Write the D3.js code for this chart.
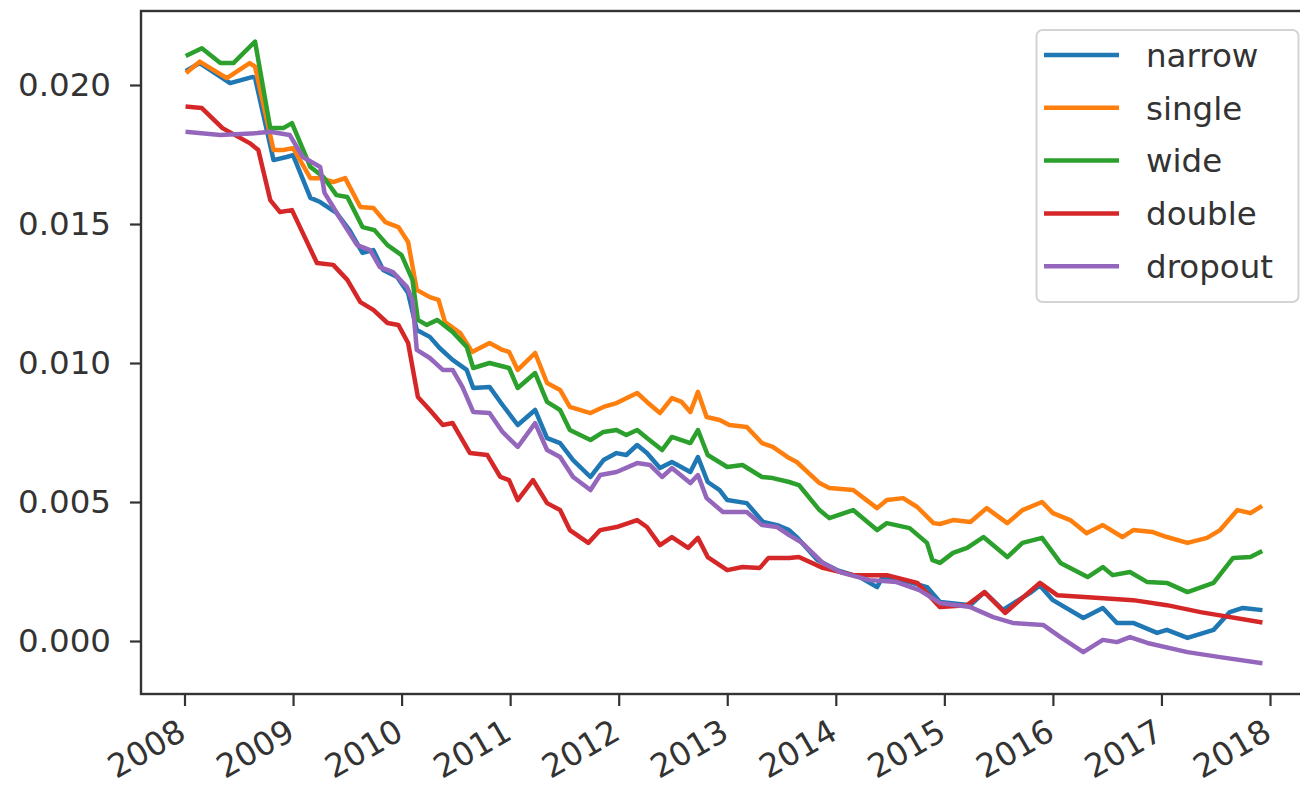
<!DOCTYPE html>
<html>
<head>
<meta charset="utf-8">
<script src="https://cdn.jsdelivr.net/npm/d3@7"></script>
<style>
  body { margin: 0; background: #fff; }
  svg { display: block; font-family: "DejaVu Sans", sans-serif; }
</style>
</head>
<body>
<div class="chart"></div>
<script>
'use strict'
// values, [decimal year, value]
var narrow = [[2008.03, 0.02054], [2008.14, 0.02079], [2008.42, 0.02007], [2008.63, 0.02029], [2008.65, 0.02025], [2008.82, 0.01730], [2008.94, 0.01741], [2009.00, 0.01748], [2009.16, 0.01594], [2009.25, 0.01579], [2009.40, 0.01540], [2009.52, 0.01478], [2009.64, 0.01396], [2009.74, 0.01406], [2009.83, 0.01335], [2009.96, 0.01309], [2010.06, 0.01252], [2010.14, 0.01119], [2010.26, 0.01094], [2010.35, 0.01054], [2010.47, 0.01011], [2010.60, 0.00975], [2010.66, 0.00910], [2010.81, 0.00914], [2010.93, 0.00849], [2011.07, 0.00777], [2011.23, 0.00831], [2011.34, 0.00730], [2011.46, 0.00712], [2011.58, 0.00651], [2011.74, 0.00590], [2011.86, 0.00651], [2011.98, 0.00676], [2012.07, 0.00669], [2012.17, 0.00705], [2012.26, 0.00676], [2012.38, 0.00622], [2012.49, 0.00644], [2012.66, 0.00608], [2012.73, 0.00662], [2012.82, 0.00572], [2012.93, 0.00543], [2013.00, 0.00507], [2013.18, 0.00496], [2013.33, 0.00428], [2013.46, 0.00417], [2013.57, 0.00399], [2013.64, 0.00374], [2013.83, 0.00291], [2014.01, 0.00255], [2014.22, 0.00230], [2014.38, 0.00194], [2014.43, 0.00230], [2014.68, 0.00212], [2014.84, 0.00194], [2014.96, 0.00140], [2015.24, 0.00129], [2015.37, 0.00176], [2015.54, 0.00112], [2015.79, 0.00173], [2015.88, 0.00200], [2016.00, 0.00147], [2016.28, 0.00083], [2016.46, 0.00119], [2016.59, 0.00065], [2016.74, 0.00065], [2016.96, 0.00029], [2017.05, 0.00040], [2017.24, 0.00011], [2017.48, 0.00040], [2017.63, 0.00104], [2017.75, 0.00119], [2017.91, 0.00112]]

var single = [[2008.03, 0.02048], [2008.14, 0.02084], [2008.39, 0.02025], [2008.60, 0.02079], [2008.65, 0.02066], [2008.82, 0.01766], [2008.91, 0.01766], [2009.00, 0.01773], [2009.16, 0.01665], [2009.25, 0.01665], [2009.37, 0.01651], [2009.48, 0.01665], [2009.62, 0.01561], [2009.74, 0.01558], [2009.85, 0.01507], [2009.97, 0.01489], [2010.06, 0.01435], [2010.14, 0.01263], [2010.26, 0.01237], [2010.34, 0.01227], [2010.40, 0.01147], [2010.54, 0.01108], [2010.65, 0.01040], [2010.81, 0.01072], [2010.93, 0.01047], [2010.99, 0.01040], [2011.07, 0.00975], [2011.23, 0.01036], [2011.34, 0.00928], [2011.46, 0.00903], [2011.55, 0.00842], [2011.74, 0.00820], [2011.86, 0.00842], [2011.98, 0.00856], [2012.17, 0.00892], [2012.26, 0.00860], [2012.38, 0.00820], [2012.49, 0.00874], [2012.58, 0.00860], [2012.66, 0.00824], [2012.73, 0.00896], [2012.81, 0.00806], [2012.93, 0.00795], [2013.02, 0.00777], [2013.18, 0.00770], [2013.32, 0.00712], [2013.42, 0.00698], [2013.57, 0.00658], [2013.64, 0.00644], [2013.85, 0.00568], [2013.94, 0.00550], [2014.16, 0.00543], [2014.38, 0.00478], [2014.47, 0.00507], [2014.62, 0.00514], [2014.75, 0.00482], [2014.90, 0.00424], [2014.96, 0.00421], [2015.08, 0.00435], [2015.24, 0.00428], [2015.39, 0.00478], [2015.58, 0.00424], [2015.72, 0.00471], [2015.90, 0.00500], [2016.00, 0.00460], [2016.16, 0.00435], [2016.31, 0.00388], [2016.46, 0.00417], [2016.64, 0.00374], [2016.74, 0.00399], [2016.92, 0.00392], [2017.05, 0.00374], [2017.24, 0.00353], [2017.42, 0.00371], [2017.54, 0.00399], [2017.70, 0.00471], [2017.82, 0.00460], [2017.91, 0.00482]]

var wide = [[2008.03, 0.02108], [2008.16, 0.02132], [2008.33, 0.02079], [2008.45, 0.02079], [2008.65, 0.02156], [2008.79, 0.01845], [2008.91, 0.01845], [2008.99, 0.01863], [2009.16, 0.01705], [2009.28, 0.01669], [2009.40, 0.01604], [2009.50, 0.01597], [2009.64, 0.01489], [2009.75, 0.01478], [2009.87, 0.01424], [2010.00, 0.01388], [2010.10, 0.01299], [2010.15, 0.01155], [2010.23, 0.01137], [2010.33, 0.01155], [2010.47, 0.01112], [2010.60, 0.01058], [2010.66, 0.00982], [2010.81, 0.01000], [2010.99, 0.00982], [2011.07, 0.00910], [2011.23, 0.00964], [2011.34, 0.00860], [2011.46, 0.00831], [2011.55, 0.00759], [2011.74, 0.00723], [2011.86, 0.00752], [2011.98, 0.00759], [2012.07, 0.00741], [2012.17, 0.00759], [2012.26, 0.00730], [2012.40, 0.00687], [2012.49, 0.00734], [2012.66, 0.00712], [2012.73, 0.00759], [2012.82, 0.00669], [2013.00, 0.00626], [2013.14, 0.00633], [2013.32, 0.00590], [2013.42, 0.00586], [2013.57, 0.00572], [2013.66, 0.00561], [2013.85, 0.00471], [2013.94, 0.00442], [2014.16, 0.00471], [2014.38, 0.00399], [2014.47, 0.00424], [2014.68, 0.00406], [2014.84, 0.00353], [2014.89, 0.00291], [2014.96, 0.00281], [2015.08, 0.00317], [2015.21, 0.00335], [2015.36, 0.00374], [2015.58, 0.00302], [2015.72, 0.00353], [2015.90, 0.00371], [2016.07, 0.00281], [2016.32, 0.00230], [2016.46, 0.00266], [2016.55, 0.00237], [2016.71, 0.00248], [2016.87, 0.00212], [2017.05, 0.00209], [2017.24, 0.00176], [2017.48, 0.00209], [2017.66, 0.00299], [2017.82, 0.00302], [2017.91, 0.00320]]

var double = [[2008.03, 0.01922], [2008.16, 0.01917], [2008.35, 0.01845], [2008.60, 0.01791], [2008.68, 0.01766], [2008.79, 0.01586], [2008.88, 0.01543], [2008.99, 0.01550], [2009.22, 0.01360], [2009.37, 0.01353], [2009.50, 0.01299], [2009.62, 0.01219], [2009.74, 0.01191], [2009.87, 0.01144], [2009.97, 0.01137], [2010.06, 0.01072], [2010.15, 0.00878], [2010.26, 0.00831], [2010.38, 0.00777], [2010.47, 0.00784], [2010.63, 0.00676], [2010.79, 0.00669], [2010.91, 0.00590], [2010.99, 0.00579], [2011.07, 0.00507], [2011.21, 0.00579], [2011.34, 0.00496], [2011.46, 0.00471], [2011.55, 0.00399], [2011.72, 0.00353], [2011.83, 0.00399], [2011.98, 0.00410], [2012.17, 0.00435], [2012.26, 0.00410], [2012.38, 0.00345], [2012.49, 0.00374], [2012.64, 0.00335], [2012.73, 0.00371], [2012.82, 0.00302], [2013.00, 0.00255], [2013.14, 0.00266], [2013.30, 0.00263], [2013.38, 0.00299], [2013.57, 0.00299], [2013.66, 0.00302], [2013.88, 0.00263], [2014.16, 0.00237], [2014.47, 0.00237], [2014.75, 0.00209], [2014.96, 0.00122], [2015.21, 0.00129], [2015.37, 0.00176], [2015.56, 0.00101], [2015.88, 0.00209], [2016.04, 0.00165], [2016.43, 0.00155], [2016.74, 0.00147], [2017.05, 0.00129], [2017.36, 0.00104], [2017.91, 0.00068]]

var dropout = [[2008.03, 0.01831], [2008.33, 0.01820], [2008.67, 0.01827], [2008.79, 0.01832], [2008.97, 0.01820], [2009.09, 0.01741], [2009.25, 0.01705], [2009.29, 0.01612], [2009.37, 0.01561], [2009.43, 0.01522], [2009.59, 0.01424], [2009.71, 0.01406], [2009.80, 0.01345], [2009.92, 0.01327], [2010.05, 0.01273], [2010.10, 0.01227], [2010.14, 0.01047], [2010.26, 0.01018], [2010.38, 0.00975], [2010.47, 0.00975], [2010.56, 0.00914], [2010.66, 0.00824], [2010.81, 0.00820], [2010.93, 0.00752], [2011.07, 0.00698], [2011.23, 0.00784], [2011.34, 0.00687], [2011.46, 0.00662], [2011.58, 0.00590], [2011.74, 0.00543], [2011.83, 0.00597], [2011.98, 0.00608], [2012.17, 0.00640], [2012.29, 0.00633], [2012.40, 0.00590], [2012.49, 0.00622], [2012.66, 0.00568], [2012.73, 0.00597], [2012.81, 0.00514], [2012.96, 0.00464], [2013.18, 0.00464], [2013.32, 0.00417], [2013.46, 0.00410], [2013.57, 0.00381], [2013.69, 0.00353], [2013.88, 0.00281], [2014.06, 0.00245], [2014.31, 0.00219], [2014.56, 0.00212], [2014.77, 0.00183], [2014.96, 0.00137], [2015.24, 0.00122], [2015.45, 0.00086], [2015.63, 0.00065], [2015.91, 0.00058], [2016.07, 0.00014], [2016.28, -0.00040], [2016.46, 0.00004], [2016.59, -0.00004], [2016.71, 0.00014], [2016.87, -0.00007], [2017.24, -0.00040], [2017.54, -0.00058], [2017.91, -0.00079]]

var names = ['narrow', 'single', 'wide', 'double', 'dropout']
var colors = ['#1f77b4', '#ff7f0e', '#2ca02c', '#d62728', '#9467bd']
var yearTicks = [2008, 2009, 2010, 2011, 2012, 2013, 2014, 2015, 2016, 2017, 2018]
var valueTicks = [0, 0.005, 0.010, 0.015, 0.020]

var series = [narrow, single, wide, double, dropout]

var width = 1300
var height = 791
var plotLeft = 141
var plotRight = 1317 // right spine sits past the crop edge
var plotTop = 11
var plotBottom = 694
var fontSize = 32.5

var x = d3.scaleLinear().domain([2008, 2018]).range([184.5, 1270])
var y = d3.scaleLinear().domain([-0.001906, 0.022662]).range([plotBottom, plotTop])

var svg = d3.select('.chart').append('svg')
  .attr('width', width)
  .attr('height', height)

var clip = svg.append('clipPath').attr('id', 'plot')
clip.append('rect')
  .attr('x', plotLeft).attr('y', plotTop)
  .attr('width', plotRight - plotLeft).attr('height', plotBottom - plotTop)

var line = d3.line()
  .x(function (d) { return x(d[0]) })
  .y(function (d) { return y(d[1]) })

svg.append('g')
  .attr('clip-path', 'url(#plot)')
  .selectAll('path')
  .data(series)
  .enter().append('path')
  .attr('d', line)
  .attr('fill', 'none')
  .attr('stroke', function (d, i) { return colors[i] })
  .attr('stroke-width', 4.5)
  .attr('stroke-linejoin', 'round')
  .attr('stroke-linecap', 'square')

// y axis
var yAxis = svg.append('g')
  .attr('transform', 'translate(' + plotLeft + ',0)')
  .call(d3.axisLeft(y).tickValues(valueTicks).tickFormat(d3.format('.3f'))
    .tickSize(11).tickPadding(19))
yAxis.select('.domain').remove()
yAxis.selectAll('line').attr('stroke', '#333').attr('stroke-width', 2.2)
yAxis.selectAll('text')
  .attr('fill', '#333')
  .style('font-size', fontSize + 'px')
  .style('font-family', '"DejaVu Sans", sans-serif')

// x axis, labels rotated like autofmt_xdate
var xAxis = svg.append('g')
  .attr('transform', 'translate(0,' + plotBottom + ')')
  .call(d3.axisBottom(x).tickValues(yearTicks).tickFormat(d3.format('d')).tickSize(12))
xAxis.select('.domain').remove()
xAxis.selectAll('line').attr('stroke', '#333').attr('stroke-width', 2.2)
xAxis.selectAll('text')
  .attr('fill', '#333')
  .attr('y', 0)
  .attr('dy', 0)
  .attr('text-anchor', 'end')
  .attr('transform', 'translate(3,44) rotate(-30)')
  .style('font-size', fontSize + 'px')
  .style('font-family', '"DejaVu Sans", sans-serif')

// frame
svg.append('rect')
  .attr('x', plotLeft).attr('y', plotTop)
  .attr('width', plotRight - plotLeft).attr('height', plotBottom - plotTop)
  .attr('fill', 'none')
  .attr('stroke', '#333')
  .attr('stroke-width', 2.4)

// legend
var legend = svg.append('g')
legend.append('rect')
  .attr('x', 1036.5).attr('y', 30)
  .attr('width', 262).attr('height', 272)
  .attr('rx', 6)
  .attr('fill', '#fff')
  .attr('fill-opacity', 0.8)
  .attr('stroke', '#d4d4d4')
  .attr('stroke-width', 2)

var rows = legend.selectAll('.row')
  .data(names)
  .enter().append('g')
  .attr('class', 'row')
  .attr('transform', function (d, i) { return 'translate(0,' + (55 + i * 52.8) + ')' })

rows.append('line')
  .attr('x1', 1044).attr('x2', 1119)
  .attr('stroke', function (d, i) { return colors[i] })
  .attr('stroke-width', 4.5)

rows.append('text')
  .attr('x', 1146)
  .attr('dy', '0.36em')
  .attr('fill', '#333')
  .style('font-size', fontSize + 'px')
  .text(function (d) { return d })
</script>
</body>
</html>
